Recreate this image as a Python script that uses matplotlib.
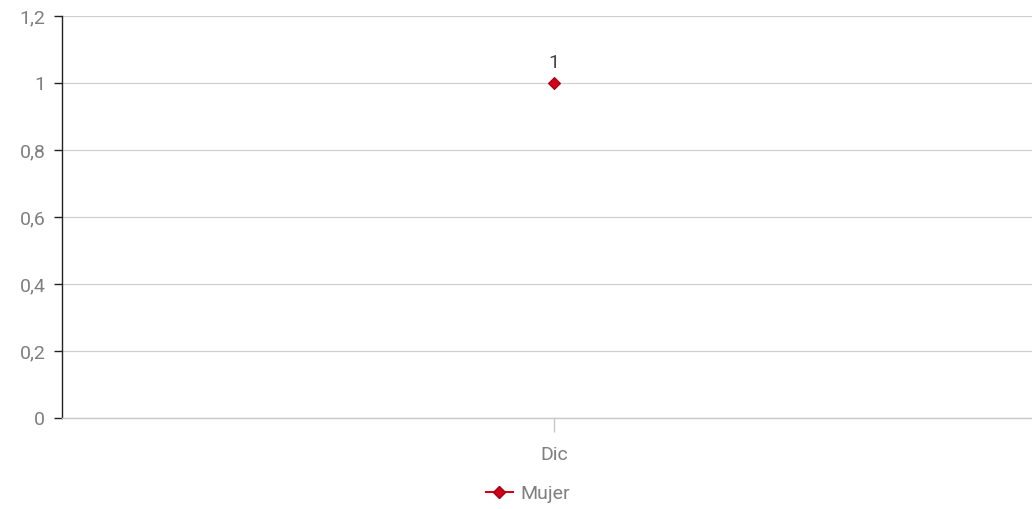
import matplotlib.pyplot as plt
from matplotlib.lines import Line2D

plt.rcParams['font.family'] = ['Roboto', 'DejaVu Sans']

categories = ['Dic']
mujer = [1]
yticks = [0, 0.2, 0.4, 0.6, 0.8, 1.0, 1.2]
ylabels = ['0', '0,2', '0,4', '0,6', '0,8', '1', '1,2']

red = '#d0021b'
edge = '#a00010'
grey = '#7f7f7f'

fig = plt.figure(figsize=(10.32, 5.09), dpi=100)
ax = fig.add_axes([62/1032, 1-418/509, 970/1032, 402/509])

xs = list(range(len(categories)))
ax.plot(xs, mujer, color=red, marker='D', markersize=6, markerfacecolor=red,
        markeredgecolor=edge, markeredgewidth=0.8, linewidth=1.5)
for x, v in zip(xs, mujer):
    ax.annotate(f'{v:g}'.replace('.', ','), (x, v), xytext=(0, 8), textcoords='offset points',
                ha='center', va='bottom', fontsize=14, color='#444444')

ax.set_ylim(0, 1.2)
ax.set_xlim(-0.5072, 0.4928)
ax.set_yticks(yticks, labels=ylabels)
ax.set_xticks(xs, labels=categories)
ax.yaxis.grid(True, color='#d0d0d0', linewidth=0.9)
ax.set_axisbelow(True)

for s in ['top', 'right']:
    ax.spines[s].set_visible(False)
ax.spines['left'].set_color('#222222')
ax.spines['left'].set_linewidth(1.0)
ax.spines['bottom'].set_color('#c8c8c8')
ax.spines['bottom'].set_linewidth(1.0)

ax.tick_params(axis='y', length=6, width=1, color='#222222', labelcolor=grey, labelsize=14, pad=6)
ax.tick_params(axis='x', length=10, width=1, color='#c8c8c8', labelcolor=grey, labelsize=14, pad=10)

handle = Line2D([], [], color=red, marker='D', markersize=6, markerfacecolor=red,
                markeredgecolor=edge, linewidth=1.5)
fig.legend([handle], ['Mujer'], loc='center', bbox_to_anchor=(528/1032, 1-494/509),
           frameon=False, fontsize=14, labelcolor=grey, handlelength=1.4, handletextpad=0.4)

fig.savefig('out.png', dpi=100)
